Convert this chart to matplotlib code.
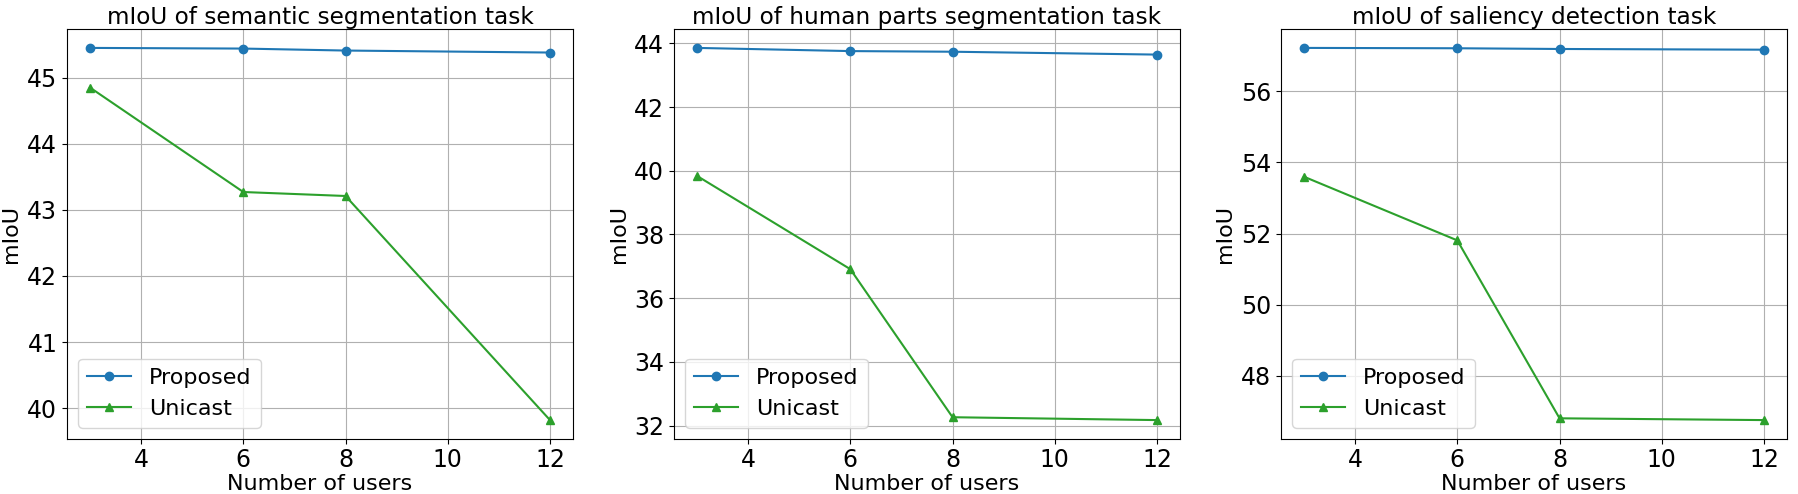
import matplotlib
matplotlib.use("Agg")
import matplotlib.pyplot as plt

users = [3, 6, 8, 12]
titles = ["mIoU of semantic segmentation task",
          "mIoU of human parts segmentation task",
          "mIoU of saliency detection task"]
proposed_sem = [45.45, 45.44, 45.41, 45.38]
unicast_sem = [44.85, 43.27, 43.21, 39.82]
proposed_hum = [43.86, 43.76, 43.74, 43.65]
unicast_hum = [39.84, 36.91, 32.26, 32.17]
proposed_sal = [57.22, 57.21, 57.19, 57.17]
unicast_sal = [53.60, 51.81, 46.81, 46.76]
xticks = [4, 6, 8, 10, 12]

proposed_all = [proposed_sem, proposed_hum, proposed_sal]
unicast_all = [unicast_sem, unicast_hum, unicast_sal]

fig = plt.figure(figsize=(17.99, 4.94), dpi=100)
lefts = [67, 674, 1281]
for i in range(3):
    ax = fig.add_axes([lefts[i] / 1799, 1 - 438.7 / 494, 506 / 1799, (438.7 - 29.3) / 494])
    ax.plot(users, proposed_all[i], marker='o', color='tab:blue', label='Proposed')
    ax.plot(users, unicast_all[i], marker='^', color='tab:green', label='Unicast')
    ax.set_xticks(xticks)
    ax.grid(True)
    ax.set_title(titles[i], fontsize=16.7, pad=4)
    ax.set_xlabel("Number of users", fontsize=16, labelpad=1)
    ax.set_ylabel("mIoU", fontsize=16)
    ax.tick_params(labelsize=17)
    ax.legend(loc='lower left', fontsize=16)

fig.savefig("out.png", dpi=100)
